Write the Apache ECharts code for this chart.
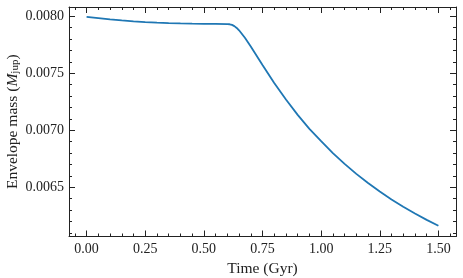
<!DOCTYPE html>
<html>
<head>
<meta charset="utf-8">
<script src="https://cdn.jsdelivr.net/npm/echarts@6/dist/echarts.min.js"></script>
<style>
html,body{margin:0;padding:0;background:#fff;}
#chart{width:463px;height:278px;}
</style>
</head>
<body>
<div id="chart"></div>
<script>
// Data
const timeGyr = [0.00,0.05,0.10,0.15,0.20,0.25,0.30,0.35,0.40,0.45,0.50,0.55,0.60,0.61,0.62,0.63,0.64,0.65,0.675,0.70,0.75,0.80,0.85,0.90,0.95,1.00,1.05,1.10,1.15,1.20,1.25,1.30,1.35,1.40,1.45,1.50];
const envelopeMass = [0.007995,0.007984,0.007973,0.007964,0.007956,0.007949,0.007944,0.007940,0.007937,0.007935,0.007934,0.007933,0.007931,0.007930,0.007925,0.007914,0.007898,0.007877,0.007812,0.007735,0.007573,0.007415,0.007270,0.007135,0.007013,0.006905,0.006800,0.006705,0.006618,0.006538,0.006463,0.006394,0.006330,0.006270,0.006214,0.006163];

const xMajorTicks = [0.00,0.25,0.50,0.75,1.00,1.25,1.50];
const xMinorTicks = [-0.05,0.05,0.10,0.15,0.20,0.30,0.35,0.40,0.45,0.55,0.60,0.65,0.70,0.80,0.85,0.90,0.95,1.05,1.10,1.15,1.20,1.30,1.35,1.40,1.45,1.55];
const yMajorTicks = [0.0065,0.0070,0.0075,0.0080];
const yMinorTicks = [0.0061,0.0062,0.0063,0.0064,0.0066,0.0067,0.0068,0.0069,0.0071,0.0072,0.0073,0.0074,0.0076,0.0077,0.0078,0.0079];

const xMin = -0.075, xMax = 1.575;
const yMin = 0.0060685, yMax = 0.0080815;

const FONT = 'Liberation Serif';
const AX = '#222';

function xAxisDef(pos, ticks, len, labels, line) {
  return {
    type: 'value', position: pos, min: xMin, max: xMax,
    axisLine: {show: line, onZero: false, lineStyle: {color: AX, width: 1}},
    axisTick: {show: true, inside: true, length: len, customValues: ticks, lineStyle: {color: AX, width: 1}},
    axisLabel: labels ? {show: true, customValues: ticks, margin: 6, color: '#222', fontFamily: FONT, fontSize: 14,
      formatter: v => v.toFixed(2)} : {show: false},
    splitLine: {show: false}
  };
}
function yAxisDef(pos, ticks, len, labels, line) {
  return {
    type: 'value', position: pos, min: yMin, max: yMax,
    axisLine: {show: line, onZero: false, lineStyle: {color: AX, width: 1}},
    axisTick: {show: true, inside: true, length: len, customValues: ticks, lineStyle: {color: AX, width: 1}},
    axisLabel: labels ? {show: true, customValues: ticks, margin: 5, color: '#222', fontFamily: FONT, fontSize: 14,
      formatter: v => v.toFixed(4)} : {show: false},
    splitLine: {show: false}
  };
}

const xAxes = [
  xAxisDef('bottom', xMajorTicks, 6, true, true),
  xAxisDef('bottom', xMinorTicks, 3, false, false),
  xAxisDef('top', xMajorTicks, 6, false, true),
  xAxisDef('top', xMinorTicks, 3, false, false)
];
xAxes[0].name = 'Time (Gyr)';
xAxes[0].nameLocation = 'middle';
xAxes[0].nameGap = 20;
xAxes[0].nameTextStyle = {fontFamily: FONT, fontSize: 15.5, color: '#222'};

const yAxes = [
  yAxisDef('left', yMajorTicks, 6, true, true),
  yAxisDef('left', yMinorTicks, 3, false, false),
  yAxisDef('right', yMajorTicks, 6, false, true),
  yAxisDef('right', yMinorTicks, 3, false, false)
];
yAxes[0].name = 'Envelope mass ({i|M}{sub|jup})';
yAxes[0].nameLocation = 'middle';
yAxes[0].nameGap = 48;
yAxes[0].nameMoveOverlap = false;
yAxes[0].nameTextStyle = {fontFamily: FONT, fontSize: 15.5, color: '#222',
  rich: {
    i: {fontFamily: FONT, fontSize: 15.5, fontStyle: 'italic', color: '#222'},
    sub: {fontFamily: FONT, fontSize: 11, color: '#222', verticalAlign: 'bottom', padding: [6, 0, 0, 0]}
  }};

const chart = echarts.init(document.getElementById('chart'), null, {renderer: 'canvas'});
chart.setOption({
  animation: false,
  backgroundColor: '#fff',
  grid: {left: 69, right: 7, top: 7, bottom: 41.5, containLabel: false, outerBoundsMode: 'none'},
  xAxis: xAxes,
  yAxis: yAxes,
  series: [{
    type: 'line',
    xAxisIndex: 0, yAxisIndex: 0,
    data: timeGyr.map((t, i) => [t, envelopeMass[i]]),
    showSymbol: false,
    smooth: false,
    lineStyle: {color: '#1f77b4', width: 1.8},
    itemStyle: {color: '#1f77b4'}
  }]
});
</script>
</body>
</html>
